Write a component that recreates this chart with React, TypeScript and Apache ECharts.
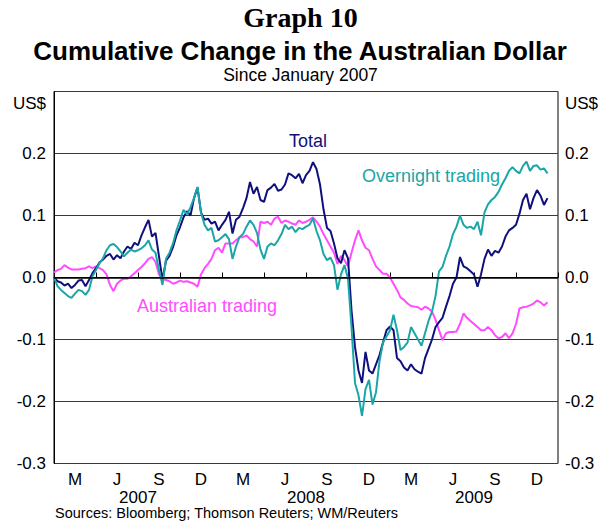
import React, { useEffect, useRef } from 'react';
import * as echarts from 'echarts';

// Month initials shown under each quarter, and the years under each block of 12 months
const quarterLetters = ['M', 'J', 'S', 'D'];
const years = ['2007', '2008', '2009'];
// Samples are read roughly weekly: 4 per month, starting January 2007
const samplesPerMonth = 4;

const total = [
  0.000, -0.006, -0.008, -0.013,
  -0.010, -0.017, -0.012, -0.005,
  -0.004, -0.014, -0.004, 0.007,
  0.015, 0.024, 0.029, 0.035,
  0.038, 0.029, 0.036, 0.031,
  0.042, 0.050, 0.046, 0.056,
  0.052, 0.068, 0.081, 0.093,
  0.066, 0.072, 0.034, -0.004,
  0.027, 0.035, 0.049, 0.068,
  0.081, 0.097, 0.107, 0.100,
  0.128, 0.145, 0.105, 0.093,
  0.095, 0.087, 0.090, 0.076,
  0.085, 0.093, 0.106, 0.071,
  0.093, 0.098, 0.112, 0.128,
  0.154, 0.135, 0.146, 0.125,
  0.122, 0.141, 0.145, 0.151,
  0.140, 0.142, 0.150, 0.168,
  0.165, 0.160, 0.167, 0.152,
  0.165, 0.172, 0.186, 0.175,
  0.150, 0.110, 0.080, 0.075,
  0.055, 0.031, 0.023, 0.044,
  0.031, -0.053, -0.112, -0.150,
  -0.170, -0.120, -0.150, -0.155,
  -0.140, -0.125, -0.105, -0.085,
  -0.079, -0.085, -0.130, -0.135,
  -0.145, -0.150, -0.140, -0.148,
  -0.152, -0.155, -0.130, -0.115,
  -0.100, -0.080, -0.072, -0.065,
  -0.047, -0.030, -0.010, 0.000,
  0.033, 0.018, 0.015, 0.010,
  0.005, -0.015, 0.005, 0.030,
  0.045, 0.035, 0.043, 0.040,
  0.050, 0.066, 0.076, 0.080,
  0.085, 0.103, 0.125, 0.135,
  0.110, 0.128, 0.141, 0.132,
  0.117, 0.128,
];

const overnight = [
  0.000, -0.014, -0.020, -0.025,
  -0.030, -0.033, -0.026, -0.020,
  -0.022, -0.028, -0.020, 0.002,
  0.012, 0.023, 0.031, 0.044,
  0.052, 0.054, 0.049, 0.042,
  0.034, 0.040, 0.045, 0.042,
  0.044, 0.047, 0.052, 0.060,
  0.045, 0.040, 0.012, -0.012,
  0.030, 0.040, 0.055, 0.076,
  0.092, 0.109, 0.102, 0.113,
  0.128, 0.146, 0.105, 0.085,
  0.076, 0.080, 0.058, 0.060,
  0.065, 0.070, 0.062, 0.030,
  0.050, 0.065, 0.070, 0.082,
  0.092, 0.085, 0.072, 0.045,
  0.030, 0.050, 0.055, 0.052,
  0.060, 0.070, 0.085, 0.078,
  0.082, 0.073, 0.080, 0.078,
  0.082, 0.085, 0.095, 0.075,
  0.060, 0.038, 0.028, 0.032,
  0.020, -0.020, 0.005, 0.020,
  -0.002, -0.080, -0.170, -0.190,
  -0.223, -0.180, -0.165, -0.205,
  -0.185, -0.135, -0.105, -0.095,
  -0.085, -0.060, -0.085, -0.117,
  -0.112, -0.105, -0.080, -0.090,
  -0.100, -0.110, -0.090, -0.070,
  -0.055, -0.030, 0.010, 0.017,
  0.035, 0.050, 0.070, 0.082,
  0.100, 0.085, 0.080, 0.082,
  0.078, 0.090, 0.068, 0.105,
  0.118, 0.125, 0.130, 0.138,
  0.150, 0.160, 0.172, 0.178,
  0.172, 0.168, 0.180, 0.187,
  0.172, 0.180, 0.181, 0.174,
  0.176, 0.168,
];

const australian = [
  0.008, 0.012, 0.014, 0.020,
  0.016, 0.013, 0.013, 0.013,
  0.014, 0.015, 0.018, 0.015,
  0.018, 0.015, 0.012, 0.005,
  -0.012, -0.022, -0.010, -0.005,
  -0.002, -0.002, 0.002, 0.007,
  0.012, 0.017, 0.023, 0.030,
  0.033, 0.025, 0.005, -0.003,
  -0.004, -0.006, -0.010, -0.008,
  -0.005, -0.007, -0.006, -0.008,
  -0.010, -0.015, 0.005, 0.015,
  0.022, 0.030, 0.044, 0.048,
  0.040, 0.055, 0.055, 0.055,
  0.060, 0.065, 0.065, 0.068,
  0.062, 0.058, 0.050, 0.090,
  0.088, 0.090, 0.085, 0.095,
  0.098, 0.088, 0.092, 0.090,
  0.087, 0.085, 0.092, 0.088,
  0.090, 0.093, 0.097, 0.090,
  0.082, 0.070, 0.060, 0.050,
  0.040, 0.022, 0.035, 0.028,
  0.018, 0.040, 0.060, 0.076,
  0.060, 0.048, 0.044, 0.030,
  0.018, 0.012, 0.006, 0.006,
  0.000, -0.010, -0.020, -0.032,
  -0.036, -0.042, -0.046, -0.047,
  -0.048, -0.052, -0.047, -0.050,
  -0.055, -0.068, -0.085, -0.101,
  -0.090, -0.088, -0.088, -0.087,
  -0.075, -0.058, -0.065, -0.070,
  -0.075, -0.080, -0.085, -0.085,
  -0.080, -0.085, -0.093, -0.098,
  -0.096, -0.090, -0.098, -0.090,
  -0.075, -0.050, -0.048, -0.047,
  -0.045, -0.042, -0.037, -0.040,
  -0.045, -0.040,
];

const toPairs = (vals: number[]) => vals.map((v, i) => [i / samplesPerMonth, v]);

const NAVY = '#10107c';
const TEAL = '#1aa6a6';
const MAGENTA = '#ff4cff';
const SANS = '"Liberation Sans", Arial, sans-serif';

export default function App() {
  const ref = useRef<HTMLDivElement>(null);

  useEffect(() => {
    const chart = echarts.init(ref.current!, null, { renderer: 'svg' });

    const yLabel = (v: number) => {
      if (v > 0.25) return '';
      if (Math.abs(v) < 1e-9) return '0.0';
      return v.toFixed(1);
    };
    const tickLabelStyle = { color: '#000', fontSize: 17, fontFamily: SANS };

    const option: any = {
      animation: false,
      backgroundColor: '#ffffff',
      grid: {
        left: 54,
        right: 43,
        top: 91.5,
        bottom: 58.5,
        show: true,
        borderColor: '#000',
        borderWidth: 1,
        backgroundColor: 'transparent',
      },
      xAxis: [
        {
          type: 'value', min: 0, max: 36, interval: 3, position: 'bottom',
          axisLine: { show: true, lineStyle: { color: '#000', width: 1 } },
          axisTick: { show: true, inside: true, length: 5, lineStyle: { color: '#000', width: 1 } },
          axisLabel: { show: false },
          splitLine: { show: false },
        },
        {
          type: 'value', min: 0, max: 36, interval: 1.5, position: 'bottom',
          axisLine: { show: false }, axisTick: { show: false }, splitLine: { show: false },
          axisLabel: {
            ...tickLabelStyle, margin: 7,
            formatter: (v: number) => {
              const k = Math.round(v / 1.5);
              return k % 2 === 1 ? quarterLetters[((k - 1) / 2) % 4] : '';
            },
          },
        },
        {
          type: 'value', min: 0, max: 36, interval: 6, position: 'bottom', offset: 18,
          axisLine: { show: false }, axisTick: { show: false }, splitLine: { show: false },
          axisLabel: {
            ...tickLabelStyle, margin: 7,
            formatter: (v: number) => {
              const k = Math.round(v);
              return k % 12 === 6 ? years[(k - 6) / 12] : '';
            },
          },
        },
      ],
      yAxis: [
        {
          type: 'value', min: -0.3, max: 0.3, interval: 0.1, position: 'left',
          axisLine: { show: true, lineStyle: { color: '#000', width: 1 } },
          axisTick: { show: false },
          splitLine: { show: true, lineStyle: { color: '#3a3a3a', width: 1 } },
          axisLabel: { ...tickLabelStyle, margin: 8, formatter: yLabel },
        },
        {
          type: 'value', min: -0.3, max: 0.3, interval: 0.1, position: 'right',
          axisLine: { show: true, lineStyle: { color: '#000', width: 1 } },
          axisTick: { show: false },
          splitLine: { show: false },
          axisLabel: { ...tickLabelStyle, margin: 7, formatter: yLabel },
        },
      ],
      series: [
        {
          name: 'Australian trading', type: 'line', data: toPairs(australian),
          xAxisIndex: 0, yAxisIndex: 0, showSymbol: false, symbol: 'none',
          lineStyle: { color: MAGENTA, width: 2 }, itemStyle: { color: MAGENTA },
          markLine: {
            silent: true, symbol: ['none', 'none'], label: { show: false },
            lineStyle: { color: '#000', width: 1.5, type: 'solid' },
            data: [{ yAxis: 0 }],
          },
          z: 2,
        },
        {
          name: 'Total', type: 'line', data: toPairs(total),
          xAxisIndex: 0, yAxisIndex: 0, showSymbol: false, symbol: 'none',
          lineStyle: { color: NAVY, width: 2 }, itemStyle: { color: NAVY }, z: 3,
        },
        {
          name: 'Overnight trading', type: 'line', data: toPairs(overnight),
          xAxisIndex: 0, yAxisIndex: 0, showSymbol: false, symbol: 'none',
          lineStyle: { color: TEAL, width: 2 }, itemStyle: { color: TEAL }, z: 4,
        },
      ],
      graphic: [
        { type: 'text', left: 'center', top: 3, style: { text: 'Graph 10', font: 'bold 28px "Liberation Serif", "Times New Roman", serif', fill: '#000' } },
        { type: 'text', left: 'center', top: 38, style: { text: 'Cumulative Change in the Australian Dollar', font: `bold 26px ${SANS}`, fill: '#000' } },
        { type: 'text', left: 'center', top: 66, style: { text: 'Since January 2007', font: `17.5px ${SANS}`, fill: '#000' } },
        { type: 'text', x: 46, y: 103, style: { text: 'US$', font: `17px ${SANS}`, fill: '#000', textAlign: 'right', textVerticalAlign: 'middle' } },
        { type: 'text', x: 565, y: 103, style: { text: 'US$', font: `17px ${SANS}`, fill: '#000', textAlign: 'left', textVerticalAlign: 'middle' } },
        { type: 'text', x: 308, y: 141, style: { text: 'Total', font: `18px ${SANS}`, fill: NAVY, textAlign: 'center', textVerticalAlign: 'middle' } },
        { type: 'text', x: 362, y: 176, style: { text: 'Overnight trading', font: `18px ${SANS}`, fill: TEAL, textAlign: 'left', textVerticalAlign: 'middle' } },
        { type: 'text', x: 137, y: 306, style: { text: 'Australian trading', font: `18px ${SANS}`, fill: MAGENTA, textAlign: 'left', textVerticalAlign: 'middle' } },
        { type: 'text', x: 55, y: 513, style: { text: 'Sources: Bloomberg; Thomson Reuters; WM/Reuters', font: `14.5px ${SANS}`, fill: '#000', textAlign: 'left', textVerticalAlign: 'middle' } },
      ],
    };

    chart.setOption(option);
    return () => chart.dispose();
  }, []);

  return (
    <div
      ref={ref}
      style={{ position: 'absolute', left: 0, top: 0, width: 601, height: 522 }}
    />
  );
}
